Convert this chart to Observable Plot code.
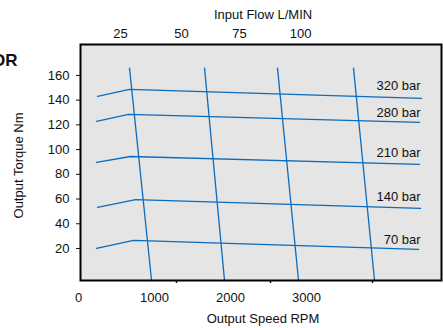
<!DOCTYPE html>
<html>
<head>
<meta charset="utf-8">
<script src="https://cdn.jsdelivr.net/npm/d3@7"></script>
<script src="https://cdn.jsdelivr.net/npm/@observablehq/plot@0.6"></script>
<style>
  html, body { margin: 0; padding: 0; background: #fff; }
  #chart { position: relative; width: 443px; height: 328px; overflow: hidden; }
</style>
</head>
<body>
<div id="chart"></div>
<script>
// Pressure curves (Output torque vs output speed)
const pressureLabels = ["320 bar", "280 bar", "210 bar", "140 bar", "70 bar"];
const curveRpm = [
  [250, 671, 4513],
  [237, 658, 4487],
  [237, 684, 4487],
  [250, 750, 4500],
  [237, 724, 4474]
];
const curveTorque = [
  [143.0, 148.7, 141.4],
  [122.8, 128.4, 122.0],
  [89.6, 94.4, 88.0],
  [53.2, 59.6, 52.4],
  [20.0, 26.5, 19.2]
];
const labelTorque = [151.8, 130.0, 97.7, 62.0, 27.3];
const labelRpm = 4500;

// Constant-flow lines
const flowTopRpm = [671, 1658, 2618, 3618];
const flowBottomRpm = [961, 1921, 2895, 3895];
const flowTopTorque = 165.9;
const flowBottomTorque = -5.9;

// Axes
const yTicks = [20, 40, 60, 80, 100, 120, 140, 160];
const xTickLabels = [0, 1000, 2000, 3000];
const xTickMarks = [1289, 2526, 3868];
const flowLabels = [25, 50, 75, 100];
const flowLabelRpm = [553, 1355, 2118, 2921];

const curves = [];
pressureLabels.forEach((p, i) => {
  curveRpm[i].forEach((r, j) => curves.push({p, rpm: r, torque: curveTorque[i][j]}));
});
const flowLines = [];
flowTopRpm.forEach((r, i) => {
  flowLines.push({k: i, rpm: r, torque: flowTopTorque});
  flowLines.push({k: i, rpm: flowBottomRpm[i], torque: flowBottomTorque});
});
const labels = pressureLabels.map((p, i) => ({p, rpm: labelRpm, torque: labelTorque[i]}));

const blue = "#0b6cbd";

const chart = Plot.plot({
  width: 443,
  height: 328,
  marginLeft: 80,
  marginRight: 2,
  marginTop: 44,
  marginBottom: 48,
  style: {fontFamily: "'Liberation Sans', Arial, sans-serif", fontSize: "13px", color: "#111", background: "transparent"},
  x: {domain: [26, 4776]},
  y: {domain: [-5.9, 185]},
  marks: [
    Plot.frame({fill: "#e5e5e5", stroke: "none"}),
    Plot.line(flowLines, {x: "rpm", y: "torque", z: "k", stroke: blue, strokeWidth: 1.3}),
    Plot.line(curves, {x: "rpm", y: "torque", z: "p", stroke: blue, strokeWidth: 1.3}),
    Plot.text(labels, {x: "rpm", y: "torque", text: "p", textAnchor: "end", fill: "#111", fontSize: 13}),
    Plot.frame({stroke: "#000", strokeWidth: 2}),
    Plot.axisY({ticks: yTicks, tickSize: 4, tickPadding: 7, label: null, fontSize: 13}),
    Plot.axisX({ticks: xTickLabels, tickSize: 0, tickPadding: 12, tickFormat: d => String(d), label: null, fontSize: 13}),
    Plot.axisX({ticks: xTickMarks, tickSize: 3, tickFormat: () => "", label: null, strokeWidth: 1.5}),
    Plot.axisX({anchor: "top", ticks: flowLabelRpm, tickFormat: (d, i) => String(flowLabels[i]), tickSize: 0, tickPadding: 7, label: null, fontSize: 13}),
    Plot.text(["Input Flow L/MIN"], {frameAnchor: "top", textAnchor: "middle", lineAnchor: "middle", dx: 2, dy: -30, fontSize: 13, fill: "#111"}),
    Plot.text(["Output Speed RPM"], {frameAnchor: "bottom", textAnchor: "middle", lineAnchor: "middle", dx: 2, dy: 38, fontSize: 13, fill: "#111"}),
    Plot.text(["Output Torque Nm"], {frameAnchor: "left", textAnchor: "middle", lineAnchor: "middle", dx: -62, dy: 3, rotate: -90, fontSize: 13, fill: "#111"}),
    Plot.text(["OR"], {frameAnchor: "top-left", textAnchor: "end", lineAnchor: "middle", dx: -63, dy: 16, fontSize: 17, fontWeight: "bold", fill: "#111"})
  ]
});
document.getElementById("chart").appendChild(chart);
</script>
</body>
</html>
